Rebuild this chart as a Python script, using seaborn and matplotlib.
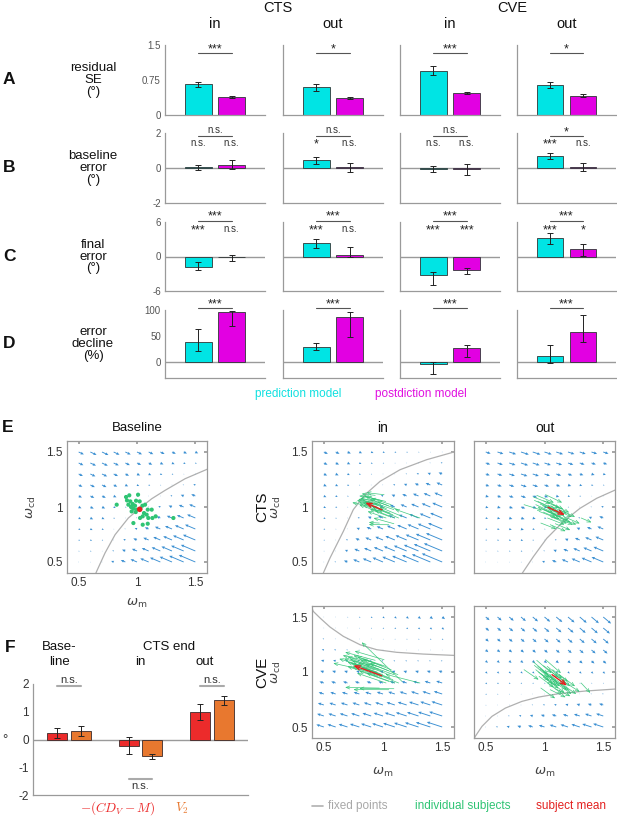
import numpy as np
import pandas as pd
import matplotlib
matplotlib.use("Agg")
import matplotlib.pyplot as plt
from matplotlib.lines import Line2D
import seaborn as sns

# ---------------- data ----------------
conditions = ["CTS in", "CTS out", "CVE in", "CVE out"]
models = ["prediction", "postdiction"]

# A: residual SE (deg)   [prediction, postdiction] per condition
resid_se = [[0.655, 0.386], [0.59, 0.364], [0.947, 0.466], [0.64, 0.41]]
resid_se_lo = [[0.60, 0.365], [0.525, 0.345], [0.85, 0.44], [0.57, 0.385]]
resid_se_hi = [[0.71, 0.41], [0.655, 0.385], [1.04, 0.49], [0.70, 0.445]]

# B: baseline error (deg)
base_err = [[0.04, 0.19], [0.44, 0.06], [-0.04, -0.08], [0.69, 0.05]]
base_err_lo = [[-0.13, -0.04], [0.25, -0.25], [-0.25, -0.40], [0.50, -0.19]]
base_err_hi = [[0.19, 0.44], [0.63, 0.30], [0.13, 0.21], [0.86, 0.29]]

# C: final error (deg)
final_err = [[-1.78, -0.12], [2.41, 0.29], [-3.22, -2.30], [3.2, 1.35]]
final_err_lo = [[-2.36, -0.75], [1.55, -0.05], [-4.90, -3.00], [2.1, 0.15]]
final_err_hi = [[-0.98, 0.20], [3.10, 1.72], [-2.64, -2.00], [4.1, 2.15]]

# D: error decline (%)
decline = [[39, 96], [29, 87], [-4, 27], [13, 58]]
decline_lo = [[21, 70], [23, 49], [-23, 10], [-1, 39]]
decline_hi = [[63, 99], [36, 97], [1, 34], [33, 90]]

sig_between = {
    "A": ["***", "*", "***", "*"],
    "B": ["n.s.", "n.s.", "n.s.", "*"],
    "C": ["***", "***", "***", "***"],
    "D": ["***", "***", "***", "***"],
}
sig_vs_zero = {
    "B": [["n.s.", "n.s."], ["*", "n.s."], ["n.s.", "n.s."], ["***", "n.s."]],
    "C": [["***", "n.s."], ["***", "n.s."], ["***", "***"], ["***", "*"]],
}

# F: end-state measures
f_groups = ["Baseline", "CTS end in", "CTS end out"]
f_measures = ["cdv", "v2"]
f_cdv = [0.25, -0.22, 0.99]
f_cdv_lo = [0.05, -0.52, 0.71]
f_cdv_hi = [0.43, 0.10, 1.27]
f_v2 = [0.31, -0.61, 1.42]
f_v2_lo = [0.13, -0.71, 1.24]
f_v2_hi = [0.49, -0.52, 1.58]
f_sig = ["n.s.", "n.s.", "n.s."]

# E: baseline subject states (omega_m, omega_cd)
base_x = [0.826, 0.906, 0.934, 1.009, 0.914, 0.943, 0.992, 1.023, 0.963, 0.983, 0.949,
          0.969, 0.997, 1.046, 1.069, 1.092, 1.126, 1.060, 1.049, 1.083, 1.097, 1.132,
          1.160, 1.026, 0.969, 1.049, 1.092, 1.312, 0.954, 0.989, 0.926, 1.029]
base_y = [1.021, 1.091, 1.106, 1.112, 1.060, 1.051, 1.057, 1.051, 1.027, 1.012, 1.000,
          0.985, 0.976, 1.012, 1.021, 0.976, 0.976, 0.945, 0.915, 0.930, 0.900, 0.900,
          0.915, 0.900, 0.854, 0.839, 0.848, 0.900, 0.960, 0.954, 1.021, 0.985]
base_mean = [1.023, 0.979]

cts_in_x = [0.74, 0.80, 0.82, 0.86, 0.79, 0.81, 0.84, 0.86, 0.82, 0.84, 0.80, 0.83, 0.85, 0.89,
            0.90, 0.92, 0.95, 0.90, 0.89, 0.91, 0.93, 0.96, 0.97, 0.87, 0.88, 0.88, 0.92, 1.10,
            0.80, 0.83, 0.78, 0.87]
cts_in_y = [1.04, 1.10, 1.12, 1.13, 1.07, 1.08, 1.10, 1.09, 1.06, 1.05, 1.04, 1.04, 1.03, 1.07,
            1.08, 1.04, 1.05, 1.01, 0.98, 1.00, 0.97, 0.98, 1.00, 0.96, 0.86, 0.84, 0.90, 0.98,
            1.02, 1.02, 1.06, 1.05]
cts_out_x = [0.98, 1.05, 1.08, 1.15, 1.06, 1.09, 1.13, 1.16, 1.11, 1.13, 1.09, 1.11, 1.14, 1.19,
             1.21, 1.23, 1.26, 1.20, 1.19, 1.22, 1.24, 1.27, 1.30, 1.17, 1.10, 1.18, 1.22, 1.40,
             1.10, 1.13, 1.07, 1.17]
cts_out_y = [0.97, 1.03, 1.04, 1.04, 0.99, 0.98, 0.99, 0.98, 0.96, 0.94, 0.93, 0.92, 0.91, 0.94,
             0.95, 0.91, 0.91, 0.88, 0.85, 0.86, 0.84, 0.84, 0.85, 0.84, 0.80, 0.78, 0.79, 0.86,
             0.90, 0.89, 0.95, 0.92]
cve_in_x = [0.58, 0.66, 0.68, 0.76, 0.67, 0.70, 0.75, 0.78, 0.72, 0.74, 0.70, 0.73, 0.76, 0.81,
            0.83, 0.85, 0.89, 0.82, 0.80, 0.84, 0.86, 0.90, 0.82, 0.78, 0.68, 0.75, 0.80, 1.02,
            0.70, 0.74, 0.63, 0.79]
cve_in_y = [1.08, 1.15, 1.18, 1.19, 1.12, 1.14, 1.15, 1.14, 1.12, 1.10, 1.09, 1.08, 1.07, 1.11,
            1.12, 1.07, 1.08, 1.04, 1.01, 1.03, 0.99, 1.00, 1.27, 0.99, 0.86, 0.84, 0.85, 0.98,
            1.05, 1.05, 1.12, 1.08]
cve_out_x = [0.95, 1.03, 1.06, 1.14, 1.04, 1.07, 1.12, 1.15, 1.09, 1.11, 1.07, 1.10, 1.13, 1.18,
             1.20, 1.22, 1.26, 1.19, 1.17, 1.21, 1.23, 1.27, 1.30, 1.15, 1.09, 1.18, 1.22, 1.39,
             1.08, 1.12, 1.04, 1.16]
cve_out_y = [0.93, 0.98, 0.99, 0.99, 0.95, 0.94, 0.95, 0.94, 0.92, 0.90, 0.89, 0.88, 0.87, 0.90,
             0.91, 0.87, 0.87, 0.84, 0.81, 0.83, 0.80, 0.80, 0.82, 0.80, 0.76, 0.77, 0.78, 0.81,
             0.86, 0.85, 0.92, 0.88]

# subject-mean arrows (start, end)
mean_arrows = {
    "cts_in": [(0.99, 0.975), (0.85, 1.04)],
    "cts_out": [(1.03, 0.997), (1.174, 0.927)],
    "cve_in": [(0.989, 0.966), (0.749, 1.06)],
    "cve_out": [(1.064, 0.976), (1.192, 0.876)],
}

# fixed-point curves
fp_base_x = [0.648, 0.654, 0.726, 0.812, 0.926, 1.026, 1.126, 1.240, 1.412, 1.612]
fp_base_y = [0.40, 0.415, 0.582, 0.748, 0.900, 0.991, 1.075, 1.151, 1.257, 1.348]
fp_cts_in_x = [0.496, 0.552, 0.665, 0.749, 0.848, 0.975, 1.144, 1.369, 1.60]
fp_cts_in_y = [0.40, 0.536, 0.779, 0.976, 1.112, 1.233, 1.339, 1.43, 1.50]
fp_cts_out_x = [0.812, 0.905, 1.019, 1.160, 1.302, 1.444, 1.603]
fp_cts_out_y = [0.40, 0.548, 0.715, 0.867, 0.988, 1.079, 1.155]
fp_cve_in_x = [0.40, 0.411, 0.468, 0.552, 0.665, 0.806, 0.946, 1.115, 1.341, 1.60]
fp_cve_in_y = [1.58, 1.551, 1.491, 1.409, 1.324, 1.248, 1.203, 1.179, 1.163, 1.151]
fp_cve_out_x = [0.40, 0.411, 0.468, 0.553, 0.667, 0.808, 0.950, 1.121, 1.348, 1.603]
fp_cve_out_y = [0.39, 0.415, 0.506, 0.597, 0.672, 0.733, 0.772, 0.803, 0.827, 0.845]

grid_vals = [0.5, 0.6, 0.7, 0.8, 0.9, 1.0, 1.1, 1.2, 1.3, 1.4, 1.5]

# ---------------- style ----------------
sns.set_theme(style="white")
plt.rcParams["font.family"] = ["Liberation Sans", "DejaVu Sans"]
plt.rcParams["axes.linewidth"] = 0.8

CYAN = "#00E4E4"
MAGENTA = "#E200E2"
RED = "#EC2B2B"
ORANGE = "#E8782F"
GREEN = "#2FC474"
MEANRED = "#E3201F"
QUIVER = "#3A8FD2"
SPINE = "#9a9a9a"
TICKC = "#555555"

W, H = 617, 817
fig = plt.figure(figsize=(W / 100, H / 100), dpi=100)


def axes_px(left, top, right, bottom):
    return fig.add_axes([left / W, 1 - bottom / H, (right - left) / W, (bottom - top) / H])


def ftext(x, y, s, **kw):
    kw.setdefault("ha", "center")
    kw.setdefault("va", "center")
    return fig.text(x / W, 1 - y / H, s, **kw)


# ---------------- panels A-D ----------------
col_px = [(165, 265), (283, 383), (400, 500), (517, 616)]
rows = [
    ("A", "residual\nSE\n(°)", (45, 115), resid_se, resid_se_lo, resid_se_hi,
     (0, 1.5), [0, 0.75, 1.5], ["0", "0.75", "1.5"], 0.88),
    ("B", "baseline\nerror\n(°)", (133, 203), base_err, base_err_lo, base_err_hi,
     (-2, 2), [-2, 0, 2], ["-2", "0", "2"], 0.955),
    ("C", "final\nerror\n(°)", (222, 291), final_err, final_err_lo, final_err_hi,
     (-6, 6), [-6, 0, 6], ["-6", "0", "6"], 1.02),
    ("D", "error\ndecline\n(%)", (310, 378), decline, decline_lo, decline_hi,
     (-30, 100), [0, 50, 100], ["0", "50", "100"], 1.025),
]


def put_sig(ax, x, y, s, size_ns=7, size_star=9):
    tr = ax.get_xaxis_transform()
    if s.startswith("*"):
        ax.text(x, y, s, transform=tr, ha="center", va="center", fontsize=size_star,
                color="#222222", clip_on=False)
    else:
        ax.text(x, y, s, transform=tr, ha="center", va="center", fontsize=size_ns,
                color="#333333", clip_on=False)


for letter, label, (top, bot), means, lo, hi, ylim, ticks, tlabels, line_y in rows:
    for ci, (l, r) in enumerate(col_px):
        ax = axes_px(l, top, r, bot)
        df = pd.DataFrame({"model": models, "value": means[ci]})
        sns.barplot(data=df, x="model", y="value", hue="model", palette=[CYAN, MAGENTA],
                    saturation=1, width=0.8, edgecolor="#2f3535", linewidth=0.6,
                    legend=False, ax=ax, zorder=2)
        yerr = [[means[ci][k] - lo[ci][k] for k in range(2)],
                [hi[ci][k] - means[ci][k] for k in range(2)]]
        ax.errorbar([0, 1], means[ci], yerr=yerr, fmt="none", ecolor="#222222",
                    elinewidth=0.7, capsize=2.5, capthick=0.7, zorder=3)
        ax.set_xlim(-1, 2)
        ax.set_ylim(*ylim)
        if ylim[0] < 0:
            ax.axhline(0, color=SPINE, lw=1.0, zorder=1)
        ax.set_xticks([])
        ax.set_xlabel("")
        ax.set_ylabel("")
        ax.set_yticks(ticks)
        if ci == 0:
            ax.set_yticklabels(tlabels)
            ax.tick_params(axis="y", direction="in", length=2, color=SPINE, labelsize=7,
                           labelcolor=TICKC, pad=3)
        else:
            ax.set_yticklabels([])
            ax.tick_params(axis="y", length=0)
        for side in ["top", "right"]:
            ax.spines[side].set_visible(False)
        for side in ["left", "bottom"]:
            ax.spines[side].set_color(SPINE)
            ax.spines[side].set_linewidth(0.9)
        ax.set_facecolor("none")

        tr = ax.get_xaxis_transform()
        ax.plot([0, 1], [line_y, line_y], transform=tr, color="#555555", lw=0.8,
                clip_on=False)
        s = sig_between[letter][ci]
        put_sig(ax, 0.5, line_y + (0.06 if s.startswith("*") else 0.09), s)
        if letter in sig_vs_zero:
            yy = 0.86 if letter == "B" else 0.90
            for k in range(2):
                s2 = sig_vs_zero[letter][ci][k]
                put_sig(ax, k, yy - (0.02 if s2.startswith("*") else 0.0), s2)

    ftext(9, (top + bot) / 2, letter, fontsize=12.5, fontweight="bold", color="#111111")
    ftext(93, (top + bot) / 2, label, fontsize=9.5, linespacing=1.0, color="#111111")

ftext(278, 8, "CTS", fontsize=10.5, color="#111111")
ftext(512, 8, "CVE", fontsize=10.5, color="#111111")
for (l, r), name in zip(col_px, ["in", "out", "in", "out"]):
    ftext((l + r) / 2, 24, name, fontsize=10.5, color="#111111")

ftext(298, 394, "prediction model", fontsize=8.5, color="#10E0E0")
ftext(421, 394, "postdiction model", fontsize=8.5, color="#E010E0")


# ---------------- panel E ----------------
def style_phase(ax, xlab, ylab):
    ax.set_xlim(0.4, 1.6)
    ax.set_ylim(0.4, 1.6)
    ax.set_xticks([0.5, 1, 1.5])
    ax.set_yticks([0.5, 1, 1.5])
    ax.set_xticklabels(["0.5", "1", "1.5"] if xlab else [])
    ax.set_yticklabels(["0.5", "1", "1.5"] if ylab else [])
    ax.tick_params(direction="in", length=2.5, top=True, right=True, color=SPINE,
                   labelsize=8.5, labelcolor="#333333", pad=3)
    for sp in ax.spines.values():
        sp.set_color(SPINE)
        sp.set_linewidth(0.9)
    ax.set_xlabel("")
    ax.set_ylabel("")


def draw_field(ax, cx, cy, up_dir, down_dir, g_up, g_down):
    X, Y = np.meshgrid(grid_vals, grid_vals)
    dist = np.interp(X, cx, cy) - Y
    below = dist > 0
    dx = np.where(below, down_dir[0], up_dir[0])
    dy = np.where(below, down_dir[1], up_dir[1])
    norm = np.hypot(dx, dy)
    mag = np.where(below, g_down, g_up) * np.abs(dist) * X
    ax.quiver(X, Y, mag * dx / norm, mag * dy / norm, angles="xy", scale_units="xy",
              scale=1, color=QUIVER, width=0.0065, headwidth=3.2, headlength=3.5,
              headaxislength=3.2, minlength=0.6, zorder=2)
    ax.plot(cx, cy, color="#b0b0b0", lw=0.9, zorder=1)


def draw_subjects(ax, ex, ey, mean_key):
    for i in range(len(base_x)):
        ax.annotate("", xy=(ex[i], ey[i]), xytext=(base_x[i], base_y[i]),
                    arrowprops=dict(arrowstyle="->,head_length=0.22,head_width=0.09",
                                    color=GREEN, lw=0.5, shrinkA=0, shrinkB=0, alpha=0.9),
                    zorder=3)
    (sx, sy), (tx, ty) = mean_arrows[mean_key]
    ax.annotate("", xy=(tx, ty), xytext=(sx, sy),
                arrowprops=dict(arrowstyle="->,head_length=0.3,head_width=0.12",
                                color=MEANRED, lw=1.0, shrinkA=0, shrinkB=0), zorder=4)


ax = axes_px(67, 441, 207, 573)
draw_field(ax, fp_base_x, fp_base_y, (1, -0.5), (-1, 0.45), 0.09, 0.13)
sns.scatterplot(x=base_x, y=base_y, color=GREEN, s=9, edgecolor="none", ax=ax, zorder=3)
sns.scatterplot(x=[base_mean[0]], y=[base_mean[1]], color=MEANRED, s=16, edgecolor="none",
                ax=ax, zorder=4)
style_phase(ax, True, True)
ftext(137, 428, "Baseline", fontsize=9.5, color="#111111")
ftext(8, 428, "E", fontsize=12.5, fontweight="bold", color="#111111")
ftext(31, 507, r"$\omega_{\rm cd}$", fontsize=9.5, rotation=90, color="#444444")
ftext(137, 603, r"$\omega_{\rm m}$", fontsize=9.5, color="#444444")

ax = axes_px(312, 441, 454, 573)
draw_field(ax, fp_cts_in_x, fp_cts_in_y, (1, -0.5), (-1, 0.45), 0.07, 0.13)
draw_subjects(ax, cts_in_x, cts_in_y, "cts_in")
style_phase(ax, False, True)
ftext(383, 428, "in", fontsize=10, color="#111111")

ax = axes_px(474, 441, 615, 573)
draw_field(ax, fp_cts_out_x, fp_cts_out_y, (1, -0.35), (-1, 0.45), 0.08, 0.12)
draw_subjects(ax, cts_out_x, cts_out_y, "cts_out")
style_phase(ax, False, False)
ftext(545, 428, "out", fontsize=10, color="#111111")

ax = axes_px(312, 606, 454, 738)
draw_field(ax, fp_cve_in_x, fp_cve_in_y, (1, -0.8), (-1, 0.35), 0.06, 0.14)
draw_subjects(ax, cve_in_x, cve_in_y, "cve_in")
style_phase(ax, True, True)

ax = axes_px(474, 606, 615, 738)
draw_field(ax, fp_cve_out_x, fp_cve_out_y, (1, -0.9), (-1, 0.35), 0.09, 0.18)
draw_subjects(ax, cve_out_x, cve_out_y, "cve_out")
style_phase(ax, True, False)

ftext(262, 507, "CTS", fontsize=11, rotation=90, color="#111111")
ftext(276, 507, r"$\omega_{\rm cd}$", fontsize=9.5, rotation=90, color="#444444")
ftext(262, 672, "CVE", fontsize=11, rotation=90, color="#111111")
ftext(276, 672, r"$\omega_{\rm cd}$", fontsize=9.5, rotation=90, color="#444444")
ftext(383, 772, r"$\omega_{\rm m}$", fontsize=9.5, color="#444444")
ftext(545, 772, r"$\omega_{\rm m}$", fontsize=9.5, color="#444444")

fig.add_artist(Line2D([312 / W, 323 / W], [1 - 806 / H, 1 - 806 / H], color="#b0b0b0",
                      lw=1.2, transform=fig.transFigure))
ftext(328, 806, "fixed points", fontsize=8.5, color="#a8a8a8", ha="left")
ftext(463, 806, "individual subjects", fontsize=8.5, color=GREEN)
ftext(571, 806, "subject mean", fontsize=8.5, color=MEANRED)

# ---------------- panel F ----------------
ax = axes_px(33, 684, 248, 795)
df_f = pd.DataFrame({
    "group": f_groups * 2,
    "measure": [f_measures[0]] * 3 + [f_measures[1]] * 3,
    "value": f_cdv + f_v2,
})
sns.barplot(data=df_f, x="group", y="value", hue="measure", palette=[RED, ORANGE],
            saturation=1, width=0.66, gap=0.15, edgecolor="#3a2a2a", linewidth=0.6,
            legend=False, ax=ax, zorder=2)
off = 0.165
xs_c = [i - off for i in range(3)]
xs_v = [i + off for i in range(3)]
ax.errorbar(xs_c, f_cdv, yerr=[[m - a for m, a in zip(f_cdv, f_cdv_lo)],
                               [b - m for m, b in zip(f_cdv, f_cdv_hi)]],
            fmt="none", ecolor="#222222", elinewidth=0.7, capsize=2.5, capthick=0.7, zorder=3)
ax.errorbar(xs_v, f_v2, yerr=[[m - a for m, a in zip(f_v2, f_v2_lo)],
                              [b - m for m, b in zip(f_v2, f_v2_hi)]],
            fmt="none", ecolor="#222222", elinewidth=0.7, capsize=2.5, capthick=0.7, zorder=3)
ax.axhline(0, color=SPINE, lw=1.0, zorder=1)
ax.set_xlim(-0.5, 2.5)
ax.set_ylim(-2, 2)
ax.set_xticks([])
ax.set_yticks([-2, -1, 0, 1, 2])
ax.set_yticklabels(["-2", "-1", "0", "1", "2"])
ax.tick_params(axis="y", direction="in", length=2, color=SPINE, labelsize=8.5,
               labelcolor="#333333", pad=3)
ax.set_xlabel("")
ax.set_ylabel("")
for side in ["top", "right"]:
    ax.spines[side].set_visible(False)
for side in ["left", "bottom"]:
    ax.spines[side].set_color(SPINE)
    ax.spines[side].set_linewidth(0.9)
ax.set_facecolor("none")

sig_pos = [(1.91, 2.13), (-1.41, -1.69), (1.91, 2.13)]
for i, (ly, ty) in enumerate(sig_pos):
    ax.plot([i - off, i + off], [ly, ly], color="#aaaaaa", lw=1.5, clip_on=False)
    ax.text(i, ty, f_sig[i], ha="center", va="center", fontsize=8, color="#333333",
            clip_on=False)

ftext(10, 647, "F", fontsize=12.5, fontweight="bold", color="#111111")
ftext(59, 647, "Base-", fontsize=9.5, color="#111111")
ftext(59, 662, "line", fontsize=9.5, color="#111111")
ftext(169, 647, "CTS end", fontsize=9.5, color="#111111")
ftext(140, 662, "in", fontsize=9.5, color="#111111")
ftext(205, 662, "out", fontsize=9.5, color="#111111")
ftext(5, 740, "°", fontsize=9.5, color="#333333")
ftext(118, 808, r"$-(CD_V-M)$", fontsize=9.5, color=RED, math_fontfamily="cm")
ftext(182, 808, r"$V_2$", fontsize=9.5, color=ORANGE, math_fontfamily="cm")

fig.savefig("out.png", dpi=100)
